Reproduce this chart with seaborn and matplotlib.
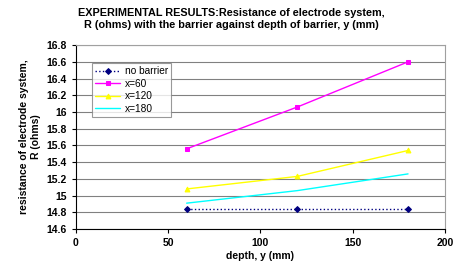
import matplotlib
matplotlib.use('Agg')
import pandas as pd
import seaborn as sns
import matplotlib.pyplot as plt

# Data
depth = [60, 120, 180]
no_barrier = [14.84, 14.84, 14.84]
x60 = [15.56, 16.06, 16.60]
x120 = [15.08, 15.23, 15.54]
x180 = [14.91, 15.06, 15.26]
series_names = ['no barrier', 'x=60', 'x=120', 'x=180']
y_ticks = [14.6, 14.8, 15.0, 15.2, 15.4, 15.6, 15.8, 16.0, 16.2, 16.4, 16.6, 16.8]
y_labels = ['14.6', '14.8', '15', '15.2', '15.4', '15.6', '15.8', '16', '16.2', '16.4', '16.6', '16.8']
x_ticks = [0, 50, 100, 150, 200]

df = pd.DataFrame({
    'depth': depth * 4,
    'R': no_barrier + x60 + x120 + x180,
    'series': [s for s in series_names for _ in depth],
})

sns.set_style('white')
plt.rcParams['font.family'] = ['Liberation Sans', 'DejaVu Sans']
plt.rcParams['text.color'] = 'black'
plt.rcParams['axes.labelcolor'] = 'black'
plt.rcParams['xtick.color'] = 'black'
plt.rcParams['ytick.color'] = 'black'

fig = plt.figure(figsize=(4.63, 2.67), dpi=100)
ax = fig.add_axes([0.164, 0.142, 0.797, 0.689])

colors = {'no barrier': '#000080', 'x=60': '#ff00ff', 'x=120': '#ffff00', 'x=180': '#00ffff'}
styles = {'no barrier': (':', 'D', 3), 'x=60': ('-', 's', 3.5), 'x=120': ('-', '^', 3.5), 'x=180': ('-', '', 0)}

for name in series_names:
    sub = df[df['series'] == name]
    ls, mk, ms = styles[name]
    sns.lineplot(data=sub, x='depth', y='R', ax=ax, color=colors[name], linestyle=ls,
                 marker=mk if mk else None, markersize=ms, markeredgecolor=colors[name],
                 linewidth=1.0, label=name)

ax.set_xlim(0, 200)
ax.set_ylim(14.6, 16.8)
ax.set_xticks(x_ticks)
ax.set_yticks(y_ticks)
ax.set_yticklabels(y_labels)
ax.tick_params(axis='both', labelsize=7.5, length=3, direction='out', color='black', width=0.8, left=True, bottom=True)
for lab in ax.get_xticklabels() + ax.get_yticklabels():
    lab.set_fontweight('bold')
ax.grid(axis='y', color='#808080', linewidth=0.8)
ax.grid(axis='x', visible=False)
ax.spines['left'].set_color('black')
ax.spines['bottom'].set_color('black')
ax.spines['top'].set_color('#a0a0a0')
ax.spines['right'].set_color('#a0a0a0')

ax.set_xlabel('depth, y (mm)', fontsize=7.5, fontweight='bold', labelpad=2)
ax.set_ylabel('resistance of electrode system,\nR (ohms)', fontsize=7.5, fontweight='bold', labelpad=4)
fig.suptitle('EXPERIMENTAL RESULTS:Resistance of electrode system,\nR (ohms) with the barrier against depth of barrier, y (mm)',
             fontsize=7.8, fontweight='bold', y=0.97, x=0.50)

leg = ax.legend(loc='upper left', bbox_to_anchor=(0.03, 0.93), fontsize=7.3, frameon=True,
                fancybox=False, edgecolor='#808080', handlelength=2.5, borderpad=0.3,
                labelspacing=0.25, handletextpad=0.4)
leg.get_frame().set_linewidth(0.8)

fig.savefig('out.png', dpi=100)
